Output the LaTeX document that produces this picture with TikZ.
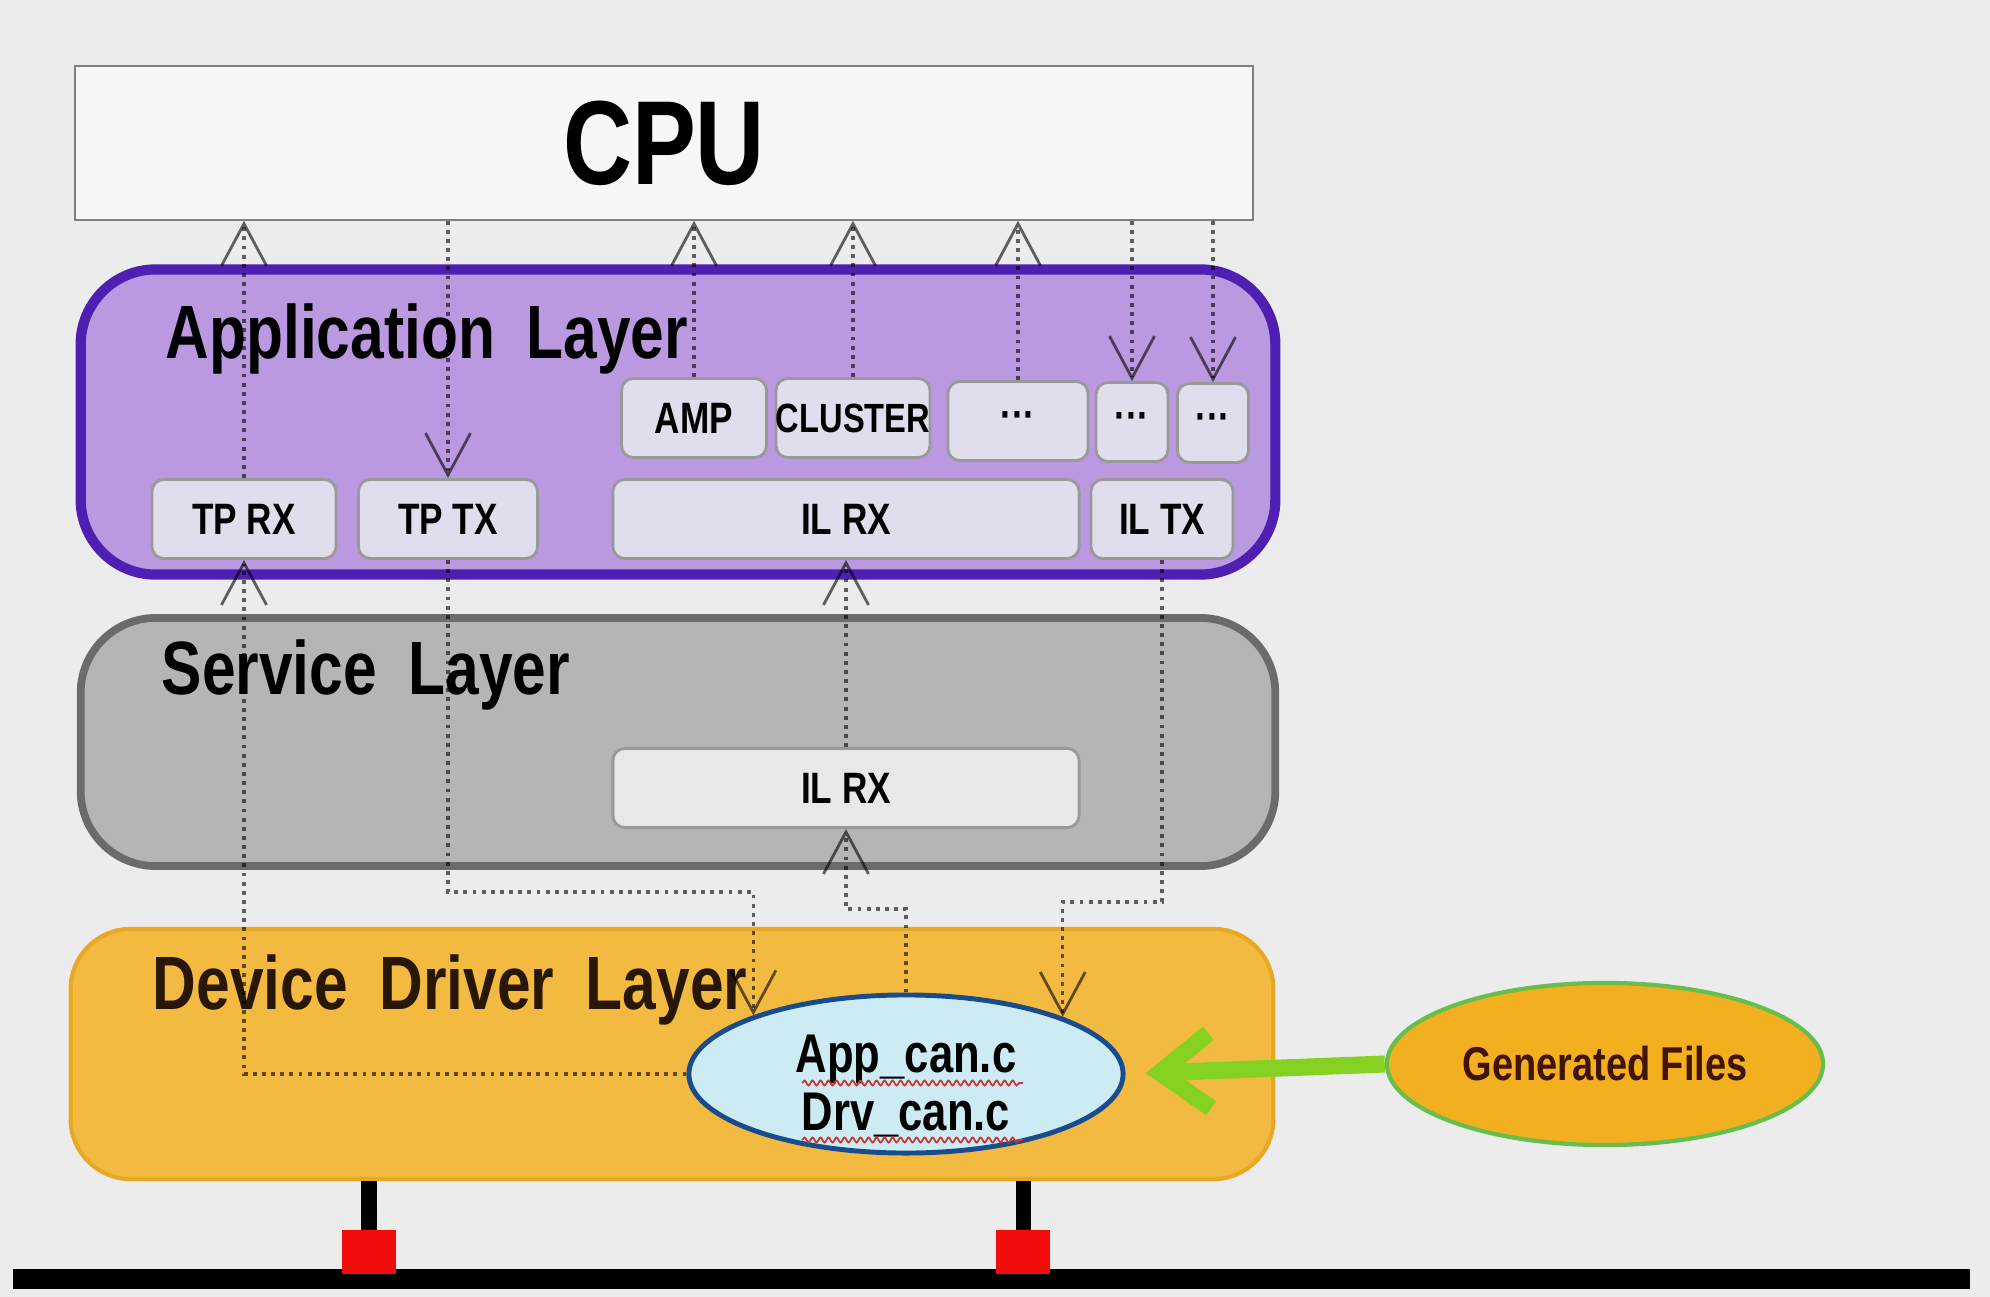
\documentclass[tikz,border=0pt]{standalone}
\usepackage{fontspec}
\setmainfont{Liberation Sans}[FakeStretch=0.8]
\usetikzlibrary{arrows.meta,shapes.geometric,decorations.pathmorphing}
\definecolor{paper}{rgb}{0.925,0.925,0.925}
\definecolor{cpufill}{rgb}{0.97,0.97,0.97}
\definecolor{applfill}{rgb}{0.73,0.60,0.88}
\definecolor{appldraw}{rgb}{0.31,0.12,0.70}
\definecolor{appbox}{rgb}{0.88,0.87,0.93}
\definecolor{svcfill}{rgb}{0.71,0.71,0.71}
\definecolor{svcdraw}{rgb}{0.42,0.42,0.42}
\definecolor{svcbox}{rgb}{0.91,0.91,0.91}
\definecolor{drvfill}{rgb}{0.95,0.73,0.25}
\definecolor{drvdraw}{rgb}{0.91,0.66,0.15}
\definecolor{drvtext}{rgb}{0.16,0.09,0.02}
\definecolor{filefill}{rgb}{0.80,0.92,0.95}
\definecolor{filedraw}{rgb}{0.10,0.30,0.55}
\definecolor{genfill}{rgb}{0.95,0.69,0.13}
\definecolor{gendraw}{rgb}{0.40,0.75,0.30}
\definecolor{gentext}{rgb}{0.25,0.08,0}
\definecolor{genarrow}{rgb}{0.52,0.82,0.13}
\definecolor{tapred}{rgb}{0.95,0.05,0.05}
\newcommand\widegap{\spaceskip=0.42em\relax}

\begin{document}
\begin{tikzpicture}[x=0.01cm, y=-0.01cm,
  layer/.style={rounded corners=0.75cm, minimum width=11.94cm},
  title/.style={anchor=base west, inner sep=0pt,
    font=\fontsize{21.5}{26}\selectfont\bfseries, execute at begin node=\widegap},
  unit/.style={draw=gray!80, line width=0.8pt, rounded corners=0.12cm, fill=appbox,
    minimum height=0.79cm, inner sep=0pt, font=\fontsize{12.5}{14}\selectfont\bfseries},
  flow/.style={draw=black, draw opacity=0.6, line width=0.9pt, dash pattern=on 1.1pt off 1.5pt,
    -{Straight Barb[length=0.42cm,width=0.45cm,line width=0.8pt]}},
  tap/.style={fill=tapred, minimum width=0.53cm, minimum height=0.43cm, inner sep=0pt},
  squiggle/.style={draw=red!60!gray, line width=0.5pt, decorate,
    decoration={snake, amplitude=0.025cm, segment length=0.08cm}}]
\fill[paper] (0,0) rectangle (1990,1297);
\useasboundingbox (0,0) rectangle (1990,1297);
\node[draw=gray, fill=cpufill, minimum width=11.77cm, minimum height=1.54cm,
  font=\fontsize{34}{40}\selectfont\bfseries] (cpu) at (664,143) {CPU};

\node[layer, draw=appldraw, fill=applfill, line width=2.9pt, minimum height=3.05cm] (appl) at (678,422) {};
\node[title] (appltitle) at (165,359) {Application Layer};
\node[unit, minimum width=1.84cm] (tprx) at (244,519) {TP RX};
\node[unit, minimum width=1.79cm] (tptx) at (448,519) {TP TX};
\node[unit, minimum width=4.66cm] (ilrx) at (846,519) {IL RX};
\node[unit, minimum width=1.42cm] (iltx) at (1162,519) {IL TX};
\node[unit, minimum width=1.45cm] (amp) at (694,418) {AMP};
\node[unit, minimum width=1.46cm, font=\fontsize{11.6}{14}\selectfont\bfseries] (cluster) at (853,418) {CLUSTER};
\node[unit, minimum width=1.40cm] (etca) at (1018,421) {···};
\node[unit, minimum width=0.72cm] (etcb) at (1132,422) {···};
\node[unit, minimum width=0.71cm] (etcc) at (1213,423) {···};

\node[layer, draw=svcdraw, fill=svcfill, line width=2.2pt, minimum height=2.48cm] (svc) at (678,742) {};
\node[title] (svctitle) at (161,694) {Service Layer};
\node[unit, fill=svcbox, minimum width=4.66cm] (svcrx) at (846,788) {IL RX};

\node[layer, draw=drvdraw, fill=drvfill, line width=1.2pt, rounded corners=0.6cm,
  minimum width=12.02cm, minimum height=2.5cm] (drv) at (672,1054) {};
\node[title, text=drvtext] (drvtitle) at (152,1009) {Device Driver Layer};
\node[ellipse, draw=filedraw, fill=filefill, line width=1.4pt, minimum width=4.34cm, minimum height=1.58cm,
  inner sep=0pt, font=\fontsize{15.5}{16.5}\selectfont\bfseries] (files) at (906,1074)
  {\raisebox{-8pt}[0pt][0pt]{\begin{tabular}{@{}c@{}}App\_can.c\\Drv\_can.c\end{tabular}}};
\draw[squiggle] (802,1083) -- (1023,1083);
\draw[squiggle] (802,1140) -- (1023,1140);

\node[ellipse, draw=gendraw, fill=genfill, line width=1.2pt, minimum width=4.32cm, minimum height=1.62cm,
  text=gentext, font=\fontsize{13.5}{16}\selectfont\bfseries] (gen) at (1605,1064) {Generated Files};
\draw[draw=genarrow, line width=0.17cm, -{Straight Barb[length=0.5cm,width=0.75cm]}, shorten >=0.2cm] (gen.west) -- (files.east);

\coordinate (busl) at (13,1279);
\coordinate (busr) at (1970,1279);
\draw[line width=0.2cm] (busl) -- (busr);
\node[tap] (tapa) at (369,1252) {};
\node[tap] (tapb) at (1023,1252) {};
\draw[line width=0.15cm] (tapa.north) -- (tapa.north |- drv.south);
\draw[line width=0.15cm] (tapb.north) -- (tapb.north |- drv.south);

\coordinate (txlevel) at (0,892);
\coordinate (rxlevel) at (0,909);
\coordinate (ltxlevel) at (0,902);
\coordinate (txturn) at (files.159 |- txlevel);
\coordinate (rxturn) at (svcrx.south |- rxlevel);
\coordinate (ltxturn) at (files.20 |- ltxlevel);
\draw[flow] (tprx.north) -- (tprx.north |- cpu.south);
\draw[flow] (files.west) -| (tprx.south);
\draw[flow] (tptx |- cpu.south) -- (tptx.north);
\draw[flow] (tptx.south) |- (txturn) -- (files.159);
\draw[flow] (amp.north) -- (amp.north |- cpu.south);
\draw[flow] (cluster.north) -- (cluster.north |- cpu.south);
\draw[flow] (etca.north) -- (etca.north |- cpu.south);
\draw[flow] (etcb |- cpu.south) -- (etcb.north);
\draw[flow] (etcc |- cpu.south) -- (etcc.north);
\draw[flow] (svcrx.north) -- (ilrx.south);
\draw[flow] (files.north) |- (rxturn) -- (svcrx.south);
\draw[flow] (iltx.south) |- (ltxturn) -- (files.20);
\end{tikzpicture}
\end{document}
